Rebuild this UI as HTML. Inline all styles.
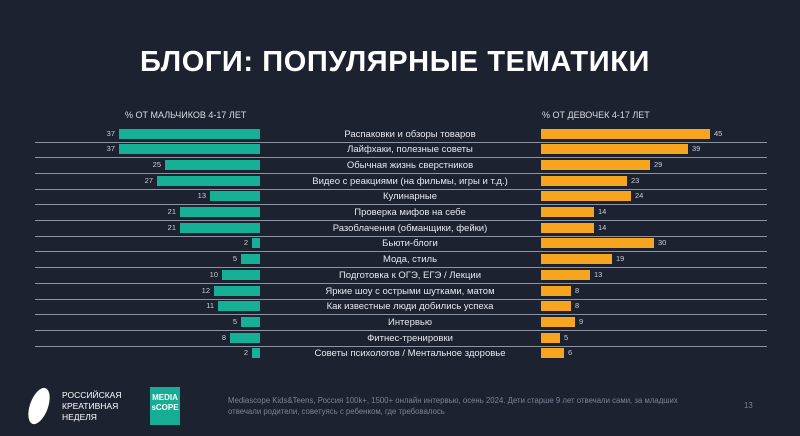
<!DOCTYPE html><html><head><meta charset="utf-8"><style>
body{margin:0;width:800px;height:436px;background:#1d2231;overflow:hidden;font-family:"Liberation Sans",sans-serif;position:relative}
.a{position:absolute}
.t{color:#fff;font-weight:bold;font-size:29px;left:0;width:790px;text-align:center;top:46px;letter-spacing:0.6px}
.h{color:#d8dbe2;font-size:9px;top:110px}
.g{background:#16b096;height:10px}
.o{background:#f7a51f;height:10px}
.n{color:#c9ccd4;font-size:7.5px}
.l{color:#e6e8ee;font-size:9.5px;width:300px;text-align:center;left:260px}
.s{height:1px;background:#8c93a3;left:35px;width:732px}
.f{color:#7d8395;font-size:7.8px;line-height:11px}
</style></head><body>
<div class="a t">БЛОГИ: ПОПУЛЯРНЫЕ ТЕМАТИКИ</div>
<div class="a h" style="left:125px">% ОТ МАЛЬЧИКОВ 4-17 ЛЕТ</div>
<div class="a h" style="left:542px">% ОТ ДЕВОЧЕК 4-17 ЛЕТ</div>
<div id="c"></div>
<script>
var d=[["Распаковки и обзоры товаров",37,45],["Лайфхаки, полезные советы",37,39],["Обычная жизнь сверстников",25,29],["Видео с реакциями (на фильмы, игры и т.д.)",27,23],["Кулинарные",13,24],["Проверка мифов на себе",21,14],["Разоблачения (обманщики, фейки)",21,14],["Бьюти-блоги",2,30],["Мода, стиль",5,19],["Подготовка к ОГЭ, ЕГЭ / Лекции",10,13],["Яркие шоу с острыми шутками, матом",12,8],["Как известные люди добились успеха",11,8],["Интервью",5,9],["Фитнес-тренировки",8,5],["Советы психологов / Ментальное здоровье",2,6]];
var h="";
d.forEach(function(r,i){var y=Math.round(133.5+i*15.7);var gw=Math.round(r[1]*3.81),ow=Math.round(r[2]*3.76);
h+='<div class="a g" style="left:'+(260-gw)+'px;width:'+gw+'px;top:'+(y-5)+'px"></div>';
h+='<div class="a n" style="left:'+(256-gw-20)+'px;width:20px;text-align:right;top:'+(y-5)+'px">'+r[1]+'</div>';
h+='<div class="a o" style="left:541px;width:'+ow+'px;top:'+(y-5)+'px"></div>';
h+='<div class="a n" style="left:'+(545+ow)+'px;top:'+(y-5)+'px">'+r[2]+'</div>';
h+='<div class="a l" style="top:'+(y-5)+'px">'+r[0]+'</div>';
if(i<14)h+='<div class="a s" style="top:'+(y+8)+'px"></div>';});
document.getElementById("c").innerHTML=h;
</script>
<div class="a" style="left:30px;top:387px;width:18px;height:38px;background:#fff;border-radius:50%;transform:rotate(20deg)"></div>
<div class="a" style="left:62px;top:390px;color:#fff;font-size:8.5px;line-height:11px">РОССИЙСКАЯ<br>КРЕАТИВНАЯ<br>НЕДЕЛЯ</div>
<div class="a" style="left:150px;top:387px;width:30px;height:38px;background:#17ad95;color:#fff;font-size:8px;font-weight:bold;line-height:10px;text-align:center;padding-top:6px;box-sizing:border-box">MEDIA<br>sCOPE</div>
<div class="a f" style="left:228px;top:395px;width:470px">Mediascope Kids&amp;Teens, Россия 100k+, 1500+ онлайн интервью, осень 2024. Дети старше 9 лет отвечали сами, за младших отвечали родители, советуясь с ребенком, где требовалось</div>
<div class="a f" style="left:744px;top:400px">13</div>
</body></html>
